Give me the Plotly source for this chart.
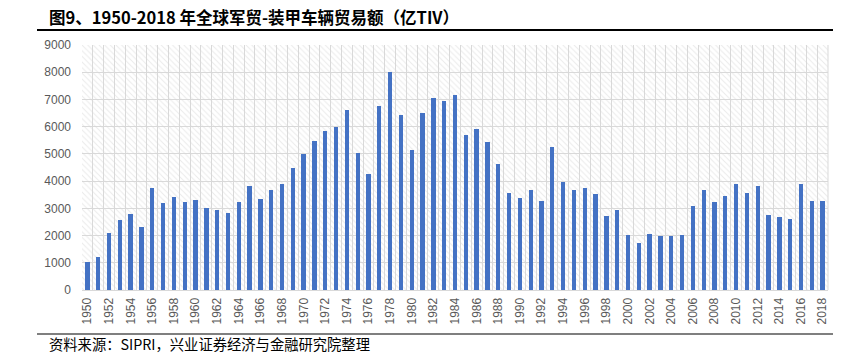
import plotly.graph_objects as go

years = list(range(1950, 2019))
values = [
    1040, 1220, 2100, 2580, 2800, 2330, 3750, 3200, 3420, 3250,
    3300, 3000, 2930, 2830, 3230, 3820, 3350, 3670, 3900, 4500,
    5010, 5490, 5830, 6000, 6630, 5050, 4270, 6750, 8000, 6430,
    5150, 6490, 7050, 6930, 7170, 5710, 5910, 5450, 4620, 3550,
    3380, 3670, 3280, 5270, 3960, 3660, 3760, 3540, 2710, 2940,
    2030, 1720, 2040, 2000, 1970, 2030, 3100, 3660, 3240, 3440,
    3910, 3580, 3810, 2740, 2690, 2590, 3910, 3280, 3280,
]
tick_years = list(range(1950, 2019, 2))
tick_labels = [str(y) for y in tick_years]
y_max = 9000

title_text = "图9、1950-2018 年全球军贸-装甲车辆贸易额（亿TIV）"
source_text = "资料来源：SIPRI，兴业证券经济与金融研究院整理"

fig = go.Figure()

# hatched plot-area background (on the hidden primary x axis, drawn first)
fig.add_trace(go.Bar(
    x=[0.5], y=[y_max], width=[1], xaxis="x", yaxis="y",
    marker=dict(color="rgba(0,0,0,0)", line=dict(width=0),
                pattern=dict(shape="\\", fgcolor="#d6d6d6", bgcolor="rgba(0,0,0,0)",
                             size=4, solidity=0.25)),
    hoverinfo="skip", showlegend=False,
))

fig.add_trace(go.Bar(
    x=years, y=values, width=0.4, xaxis="x2", yaxis="y",
    marker=dict(color="#4472C4", line=dict(width=0)),
    showlegend=False,
))

axis_font = dict(family="Liberation Sans, Arial, sans-serif", size=12, color="#595959")

fig.update_layout(
    width=852, height=361,
    margin=dict(l=82, r=24, t=45, b=71),
    paper_bgcolor="white", plot_bgcolor="white",
    bargap=0,
    xaxis=dict(range=[0, 1], visible=False, showgrid=False, zeroline=False),
    xaxis2=dict(
        overlaying="x", side="bottom",
        range=[years[0] - 0.5, years[-1] + 0.5],
        tickmode="array", tickvals=tick_years, ticktext=tick_labels,
        tickangle=-90, tickfont=axis_font,
        showgrid=False, zeroline=False,
        showline=True, linecolor="#d9d9d9", linewidth=1,
        ticks="", ticklabelstandoff=2,
        minor=dict(tick0=years[0] - 0.5, dtick=1, showgrid=True,
                   gridcolor="#d9d9d9", gridwidth=1),
    ),
    yaxis=dict(
        range=[0, y_max], tick0=0, dtick=1000,
        tickfont=axis_font,
        showgrid=True, gridcolor="#d9d9d9", gridwidth=1,
        zeroline=False, showline=False,
        ticks="", ticklabelstandoff=10,
    ),
    shapes=[
        dict(type="line", xref="paper", yref="paper",
             x0=-45 / 746, x1=751 / 746, y0=1 + 15 / 245, y1=1 + 15 / 245,
             line=dict(color="black", width=2)),
        dict(type="line", xref="paper", yref="paper",
             x0=-45 / 746, x1=751 / 746, y0=-44 / 245, y1=-44 / 245,
             line=dict(color="black", width=1.2)),
        dict(type="line", xref="paper", yref="paper",
             x0=1, x1=1, y0=0, y1=1,
             line=dict(color="#d9d9d9", width=1)),
    ],
    annotations=[
        dict(text="<b>" + title_text + "</b>", xref="paper", yref="paper",
             x=-35 / 746, y=1 + 28 / 245, xanchor="left", yanchor="middle",
             showarrow=False,
             font=dict(family="Noto Sans CJK SC", size=16.5, color="black")),
        dict(text=source_text, xref="paper", yref="paper",
             x=-35 / 746, y=-53 / 245, xanchor="left", yanchor="middle",
             showarrow=False,
             font=dict(family="Noto Sans CJK SC", size=14.3, color="black")),
    ],
)

fig.write_html("out.html", config={"displayModeBar": False},
               post_script="document.body.style.margin='0';")
